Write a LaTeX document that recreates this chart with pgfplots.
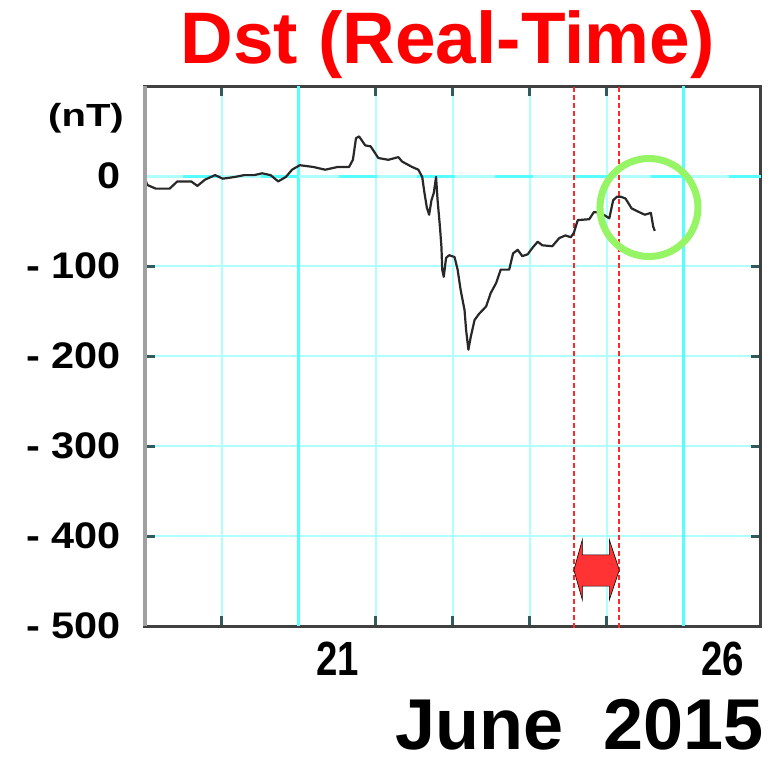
\documentclass[border=0pt]{standalone}
\usepackage{pgfplots}
\pgfplotsset{compat=1.18}
\usepackage{fontspec}
\setmainfont{Liberation Sans}
\definecolor{gridc}{RGB}{175,255,255}
\definecolor{brightc}{RGB}{85,255,255}
\definecolor{tickc}{RGB}{50,90,90}
\definecolor{spinec}{RGB}{64,64,64}
\definecolor{leftc}{RGB}{160,160,160}
\definecolor{titlered}{RGB}{255,0,0}
\definecolor{redd}{RGB}{255,40,40}
\definecolor{arrowred}{RGB}{255,51,51}
\definecolor{circg}{RGB}{150,245,100}
\definecolor{linec}{RGB}{40,40,40}
\newcommand\ylab[1]{\scalebox{1.12}[1]{\fontsize{37}{37}\selectfont\bfseries #1}}
\newcommand\xlab[1]{\scalebox{0.8}[1]{\fontsize{48}{48}\selectfont\bfseries #1}}
\begin{document}
\begin{tikzpicture}
\useasboundingbox (0,0) rectangle (771pt,-766pt);
\node[anchor=base, text=titlered, inner sep=0pt, font=\fontsize{73}{73}\selectfont\bfseries] at (447.5pt,-63pt) {Dst (Real-Time)};
\node[anchor=base east, inner sep=0pt, font=\fontsize{72}{72}\selectfont\bfseries] at (764pt,-749pt) {June\ \ 2015};
\node[anchor=base, inner sep=0pt, font=\fontsize{32}{32}\selectfont\bfseries] at (86pt,-126pt) {\scalebox{1.25}[1]{(nT)}};
\begin{axis}[
  at={(145pt,-626pt)}, anchor=south west,
  scale only axis, width=616pt, height=540pt,
  xmin=19, xmax=27, ymin=-500, ymax=100,
  clip=false,
  xtick={20,21,22,23,24,25,26},
  xticklabels={,,,,,,},
  extra x ticks={21.5,26.5},
  extra x tick labels={\xlab{21},\xlab{26}},
  extra x tick style={grid=none, major tick length=0pt},
  xticklabel style={anchor=north, inner sep=0pt, yshift=-16pt},
  ytick={-500,-400,-300,-200,-100,0},
  yticklabels={\ylab{- 500},\ylab{- 400},\ylab{- 300},\ylab{- 200},\ylab{- 100},\ylab{0}},
  yticklabel style={anchor=east, inner sep=0pt, xshift=-24pt},
  grid=major,
  grid style={gridc, line width=2.5pt},
  tick align=inside, tick pos=both,
  major tick length=10pt,
  tick style={tickc, line width=3pt},
  axis line style={spinec, line width=3pt},
]
\draw[brightc, line width=3pt] (axis cs:21,-500) -- (axis cs:21,100);
\draw[brightc, line width=3pt] (axis cs:26,-500) -- (axis cs:26,100);
\draw[gridc, line width=3pt] (axis cs:19,0) -- (axis cs:27,0);
\draw[brightc, line width=3pt, dash pattern=on 38pt off 40pt, dash phase=-38pt] (axis cs:19,0) -- (axis cs:27,0);
\draw[redd, line width=2pt, dash pattern=on 5pt off 3pt] (axis cs:24.57,-502) -- (axis cs:24.57,100);
\draw[redd, line width=2pt, dash pattern=on 5pt off 3pt] (axis cs:25.16,-502) -- (axis cs:25.16,100);
\addplot[linec, line width=2.2pt, line join=round] coordinates {
(19.00,-3) (19.03,-10) (19.14,-14) (19.32,-14) (19.42,-6) (19.60,-6) (19.68,-11)
(19.78,-4) (19.91,1) (20.01,-3) (20.17,-1) (20.29,1) (20.42,1) (20.52,3) (20.63,1)
(20.73,-6) (20.83,-1) (20.91,7) (21.01,12) (21.19,10) (21.34,7) (21.50,10) (21.65,10)
(21.70,18) (21.74,42) (21.78,44) (21.86,34) (21.93,33) (22.03,20) (22.16,18) (22.29,21)
(22.34,16) (22.47,10) (22.55,7) (22.60,-1) (22.63,-19) (22.66,-35) (22.69,-43) (22.72,-27)
(22.75,-19) (22.78,-1) (22.80,-27) (22.83,-56) (22.85,-79) (22.86,-104) (22.88,-112)
(22.91,-91) (22.95,-88) (23.02,-90) (23.06,-104) (23.10,-127) (23.15,-149) (23.17,-171)
(23.20,-193) (23.23,-179) (23.28,-160) (23.34,-153) (23.43,-145) (23.49,-130) (23.56,-119)
(23.62,-104) (23.73,-104) (23.78,-86) (23.84,-82) (23.90,-89) (23.97,-87) (24.03,-80)
(24.10,-73) (24.16,-77) (24.29,-78) (24.38,-69) (24.46,-66) (24.53,-68) (24.57,-63)
(24.62,-49) (24.77,-48) (24.83,-40) (24.92,-41) (25.03,-47) (25.08,-27) (25.13,-23)
(25.18,-23) (25.24,-25) (25.32,-36) (25.39,-39) (25.49,-43) (25.57,-41) (25.60,-56) (25.62,-61)
};
\filldraw[fill=arrowred, draw=black, line width=0.6pt]
  (axis cs:24.57,-437.8) -- (axis cs:24.68,-404) -- (axis cs:24.68,-421) -- (axis cs:25.03,-421)
  -- (axis cs:25.03,-404) -- (axis cs:25.16,-437.8) -- (axis cs:25.03,-471) -- (axis cs:25.03,-455.6)
  -- (axis cs:24.68,-455.6) -- (axis cs:24.68,-471) -- cycle;
\draw[circg, line width=7pt] (axis cs:25.545,-35) circle[radius=49pt];
\draw[leftc, line width=4pt] (rel axis cs:0,0) -- (rel axis cs:0,1);
\end{axis}
\end{tikzpicture}
\end{document}
